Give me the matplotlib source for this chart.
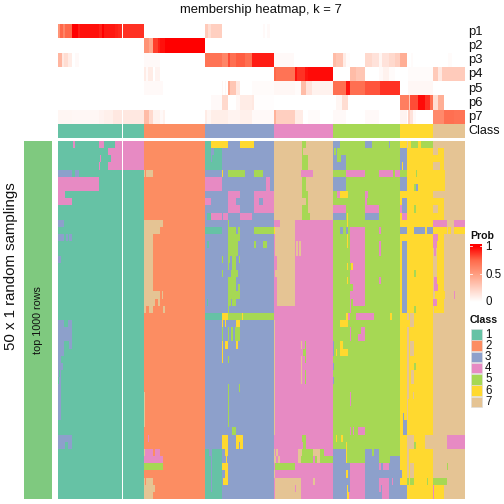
import numpy as np
import matplotlib
matplotlib.use('Agg')
import matplotlib.pyplot as plt
from matplotlib.colors import ListedColormap, LinearSegmentedColormap
from matplotlib.patches import Rectangle

plt.rcParams['font.family'] = ['Liberation Sans', 'DejaVu Sans']

# ------ data ------
N_COLS = 407
N_ROWS = 50
GAP_COL = 64
CLASS_COLORS = ['#66C2A5', '#FC8D62', '#8DA0CB', '#E78AC3', '#A6D854', '#FFD92F', '#E5C494']
SIDE_COLOR = '#7FC97F'
CLASS_NAMES = ['1', '2', '3', '4', '5', '6', '7']
P_NAMES = ['p1', 'p2', 'p3', 'p4', 'p5', 'p6', 'p7']
# first column of each class, last value is the end
CLASS_STARTS = [0, 86, 147, 216, 275, 342, 375, 407]

# membership probabilities as (first col, end col, prob)
p1 = [(0,2,.55),(2,5,.75),(5,7,.62),(7,10,.75),(10,14,.75),(14,20,1.),(20,22,.93),(22,41,.96),(41,44,.92),
      (44,46,1.),(46,57,.94),(57,60,.92),(60,64,.9),(65,86,.88),(147,150,.28),(150,153,.18),(153,164,.25),
      (205,207,.03),(209,212,.03)]
p2 = [(86,91,.55),(91,95,.45),(95,100,.85),(100,102,.92),(102,107,.96),(107,147,1.)]
p3 = [(0,4,.38),(4,6,.12),(6,10,.18),(10,14,.1),(17,21,.03),(86,102,.03),(147,164,.7),(164,170,.62),(170,172,.82),
      (172,178,.72),(178,187,.78),(187,194,.72),(194,216,.93),(216,236,.03),(275,278,.35),(278,285,.3),(285,288,.1),
      (288,292,.02),(307,314,.2),(314,321,.15),(321,324,.05),(324,331,.15),(331,337,.2),(337,342,.25),(342,349,.42),
      (353,355,.02),(390,394,.02)]
p4 = [(86,88,.1),(88,90,.03),(90,95,.1),(97,102,.06),(216,218,.75),(218,237,.7),(237,239,.95),(239,247,.88),
      (247,250,.95),(250,275,.97),(292,298,.35),(298,307,.3),(321,325,.03),(325,331,.07),(331,337,.02),(350,375,.02),
      (375,380,.28),(380,384,.12),(384,407,.27)]
p5 = [(86,105,.03),(164,165,.05),(167,168,.05),(170,172,.45),(172,178,.3),(178,182,.12),(194,216,.02),(216,237,.04),
      (237,243,.02),(243,248,.35),(248,254,.15),(254,275,.07),(275,288,.72),(288,292,.95),(292,307,.72),(307,322,.8),
      (322,342,.88),(350,375,.04)]
p6 = [(153,164,.03),(164,170,.2),(178,182,.04),(182,194,.1),(194,196,.12),(196,216,.01),(278,284,.05),(284,290,.18),
      (342,351,.65),(351,352,.3),(352,360,.82),(360,367,.97),(367,372,.88),(372,375,.72),(375,380,.18),(380,386,.42)]
p7 = [(0,14,.05),(14,41,.04),(41,46,.06),(46,55,.08),(55,64,.12),(65,86,.12),(86,91,.35),(91,95,.2),(95,102,.07),
      (102,105,.03),(105,107,.07),(147,149,.1),(149,153,.05),(153,170,.09),(170,182,.06),(182,194,.08),(194,216,.03),
      (216,218,.4),(218,237,.25),(237,245,.1),(250,262,.02),(275,288,.03),(307,321,.03),(342,349,.06),(350,352,.25),
      (352,355,.15),(355,358,.03),(375,386,.6),(386,396,.72),(396,407,.7)]
P_RUNS = [p1, p2, p3, p4, p5, p6, p7]

# sampled classes, each block paints over its own base class
# (first row, end row, class, first col, end col)
block1 = [(0,1,4,15,17),(0,1,4,41,46),(0,1,4,57,86),(1,2,4,50,86),(2,3,4,42,43),(2,3,4,53,86),(3,4,4,41,42),(3,4,4,50,86),
          (4,5,3,0,14),(4,5,3,17,21),(5,7,4,0,41),(7,8,4,0,7),(8,9,4,0,14),(11,12,3,0,6),(13,14,3,0,6),(13,14,3,8,10),
          (13,14,3,11,14),(16,17,3,0,3),(25,26,3,0,6),(25,26,3,10,14),(26,28,3,0,14),(28,29,3,0,6),(28,29,3,11,14),
          (29,30,3,0,6),(30,31,3,0,3),(31,32,3,0,5),(32,33,3,0,1),(32,33,3,2,3),(33,34,3,1,3),(34,39,3,0,3),
          (41,42,3,0,14),(42,43,3,0,7),(42,43,3,10,14)]
block2 = [(4,5,7,86,87),(4,5,7,88,95),(11,12,7,86,105),(12,13,7,86,102),(13,21,7,86,95),(21,22,7,86,102),(21,22,7,104,105),
          (22,23,7,86,97),(22,23,7,100,102),(23,24,7,86,88),(23,24,7,91,95),(23,24,7,105,107),(35,40,7,86,87),(41,42,4,90,91),
          (43,44,7,86,87),(43,44,4,87,95),(43,44,4,97,102),(44,45,4,86,105),(45,46,5,86,105),(47,48,7,86,87),(47,48,7,88,95),
          (48,49,7,86,97),(49,50,7,86,95)]
block3 = [(0,1,1,147,153),(0,1,6,153,170),(0,1,6,182,196),(1,4,1,147,164),(1,2,3,153,156),(2,3,3,153,154),(4,5,6,164,165),
          (4,5,5,170,187),(4,5,5,196,205),(5,7,4,147,164),(5,7,4,208,212),(7,8,4,170,182),(7,8,4,196,216),(8,9,4,147,153),
          (8,9,4,170,178),(8,9,4,196,201),(8,9,4,205,216),(9,10,4,170,182),(9,10,4,196,216),(10,11,1,149,153),(10,11,4,153,164),
          (10,11,4,165,170),(10,11,4,182,194),(11,12,5,170,171),(12,13,1,147,164),(12,13,5,170,178),(12,13,5,180,182),
          (12,13,5,196,216),(13,14,5,170,182),(14,15,1,149,151),(14,15,5,170,180),(14,15,5,196,198),(14,15,5,205,209),
          (15,16,5,170,180),(16,17,5,164,165),(16,17,5,170,172),(16,17,5,174,178),(16,17,5,181,182),(17,18,5,170,171),
          (17,18,5,174,178),(18,19,5,164,165),(18,19,5,173,180),(19,20,5,170,178),(20,21,5,170,178),(20,21,5,180,182),
          (21,22,5,170,182),(22,23,1,149,150),(22,23,5,170,173),(22,23,5,174,178),(23,24,5,170,171),(24,25,1,147,164),
          (24,25,6,164,170),(24,25,5,170,184),(24,25,6,184,185),(24,25,5,185,216),(25,26,6,164,165),(25,26,6,167,168),
          (25,26,6,178,182),(26,28,5,164,165),(26,28,5,170,171),(26,28,5,173,175),(26,28,5,177,182),(28,29,6,164,165),
          (28,29,6,167,170),(28,29,6,178,180),(29,30,6,164,165),(30,31,6,164,165),(30,31,5,170,171),(34,35,5,181,182),
          (34,40,5,170,171),(40,41,5,174,178),(41,42,6,164,170),(41,42,6,178,185),(42,43,6,164,170),(42,43,6,178,181),
          (42,43,6,182,185),(43,44,1,147,151),(43,44,1,154,164),(43,44,6,167,170),(44,45,1,147,153),(44,45,1,154,164),
          (44,45,6,168,169),(45,46,1,147,153),(45,46,1,154,164),(45,46,6,164,170),(46,47,1,147,153),(46,47,1,154,164),
          (46,47,6,167,170),(47,48,1,147,153),(47,48,1,154,164),(47,48,6,165,170),(48,49,1,147,153),(48,49,1,154,164),
          (49,50,1,147,164)]
block4 = [(0,11,7,216,275),(0,1,5,244,248),(1,2,5,244,245),(2,4,5,244,250),(4,5,4,243,255),(5,7,5,244,248),(7,8,5,244,250),
          (8,9,5,248,250),(9,10,5,244,250),(10,11,5,244,252),(11,12,7,222,237),(12,16,7,217,237),(12,13,6,216,217),
          (14,16,7,238,240),(14,16,7,241,243),(16,18,7,219,237),(18,19,7,217,237),(19,23,7,219,237),(25,41,7,216,217),
          (28,29,7,243,244),(28,29,5,247,248),(29,30,5,245,248),(30,31,7,243,244),(30,31,5,247,248),(31,32,7,243,244),
          (32,34,7,243,244),(32,34,5,247,248),(41,42,5,244,248),(42,43,5,245,248),(43,44,7,216,217),(43,44,7,218,220),
          (43,44,7,240,244),(43,44,5,244,255),(43,44,7,255,262),(43,44,5,262,266),(44,45,7,216,218),(44,45,7,220,222),
          (44,45,7,240,243),(44,45,5,243,255),(44,45,5,257,259),(44,45,7,259,262),(44,45,5,262,275),(45,46,5,217,237),
          (46,47,7,216,217),(47,48,7,217,243),(47,48,7,255,257),(48,50,7,217,243),(48,49,4,237,238)]
block5 = [(0,1,3,275,282),(0,1,3,307,314),(0,1,3,331,332),(1,2,3,275,276),(1,2,3,278,279),(2,3,3,275,279),(2,3,3,283,288),
          (3,4,3,275,288),(4,5,4,288,307),(4,5,4,321,335),(4,5,4,337,342),(5,7,3,275,288),(7,8,4,279,282),(7,8,6,282,290),
          (7,8,4,307,310),(8,9,4,307,309),(9,10,4,275,288),(9,10,4,307,321),(10,11,3,275,288),(10,11,6,289,290),(10,11,3,307,321),
          (11,12,6,289,290),(12,13,3,282,285),(12,13,3,288,290),(12,13,4,292,307),(12,13,4,321,323),(13,14,6,289,290),
          (13,14,4,292,307),(14,15,6,289,290),(14,15,4,292,307),(14,15,4,321,323),(15,16,4,292,307),(15,16,4,321,323),
          (16,17,4,292,307),(17,18,6,289,290),(17,18,6,293,295),(17,18,4,295,307),(18,19,4,292,307),(19,20,6,289,290),
          (19,20,4,292,307),(19,20,4,321,323),(20,21,4,295,307),(21,22,4,292,307),(22,23,4,292,293),(22,23,4,295,307),
          (23,24,4,292,293),(24,25,6,288,290),(24,25,4,290,292),(24,25,4,298,316),(24,25,6,332,334),(25,26,6,282,290),
          (26,27,4,292,293),(26,27,4,303,307),(27,28,4,292,293),(27,28,4,300,307),(28,29,3,275,276),(28,29,6,282,285),
          (29,30,3,275,276),(29,30,6,278,279),(29,30,6,282,290),(31,32,3,275,276),(33,34,3,275,276),(35,37,4,292,293),
          (40,41,4,292,293),(40,41,4,295,296),(40,41,4,300,307),(41,42,6,278,279),(41,42,6,283,285),(42,43,6,288,289),
          (43,44,3,275,288),(43,44,6,288,289),(43,44,3,307,314),(43,44,3,316,321),(44,45,3,275,288),(44,45,6,288,289),
          (44,45,3,307,321),(44,45,3,332,342),(45,46,3,275,292),(45,46,4,292,307),(45,46,3,307,321),(45,46,4,321,323),
          (45,46,3,323,325),(45,46,4,325,331),(45,46,3,331,342),(46,47,3,275,288),(46,47,6,288,290),(46,47,3,290,292),
          (46,47,4,292,307),(46,47,3,307,342),(47,48,3,275,292),(47,48,4,292,307),(47,48,3,307,321),(47,48,4,321,331),
          (47,48,3,331,334),(47,48,4,334,335),(47,48,3,335,342),(48,49,3,275,289),(48,49,6,289,290),(48,49,3,290,292),
          (48,49,4,292,307),(48,49,3,307,321),(48,49,4,321,323),(48,49,3,323,324),(48,49,4,324,331),(48,49,3,331,342),
          (49,50,3,275,289),(49,50,6,289,291),(49,50,4,291,307),(49,50,3,307,324),(49,50,4,324,331),(49,50,3,331,342)]
block6 = [(0,1,7,349,350),(0,1,5,353,360),(0,1,5,363,375),(1,3,3,342,349),(3,4,3,342,344),(3,4,3,345,349),(4,5,5,342,349),
          (4,5,5,358,359),(5,6,3,342,349),(6,7,3,342,349),(6,7,5,356,358),(6,7,3,358,360),(8,9,3,344,349),(9,10,4,342,344),
          (9,10,3,344,349),(9,10,5,356,358),(10,11,4,344,349),(12,13,3,342,349),(12,13,3,356,367),(12,13,3,369,375),
          (14,24,3,344,349),(18,19,5,356,358),(23,24,5,356,358),(24,25,7,349,351),(24,25,7,352,356),(25,26,7,352,356),
          (26,28,7,349,351),(28,30,7,349,351),(28,30,7,352,356),(30,31,7,349,351),(31,32,7,349,351),(31,32,5,356,358),
          (32,34,7,349,351),(32,34,7,353,356),(34,35,7,349,351),(35,36,7,349,351),(35,36,7,355,356),(36,39,7,349,350),
          (38,39,3,345,346),(39,41,3,345,349),(41,42,7,349,356),(41,42,7,367,375),(42,43,7,349,356),(42,43,5,356,358),
          (42,43,7,367,375),(43,45,7,349,351),(45,47,7,349,351),(45,47,7,352,356),(46,47,3,342,344),(47,48,5,349,351),
          (47,48,5,352,356),(47,48,5,369,370),(48,50,3,342,349)]
block7 = [(1,2,6,380,386),(2,3,6,375,386),(3,4,6,382,386),(4,7,6,375,387),(8,9,6,375,386),(9,10,6,380,386),(10,11,6,375,386),
          (11,12,4,375,389),(11,12,4,396,407),(12,13,6,375,389),(12,13,6,390,393),(12,13,6,396,407),(13,14,4,375,380),
          (13,14,6,380,386),(14,15,4,375,379),(14,15,6,379,386),(15,16,4,376,378),(15,16,6,379,386),(16,19,6,379,386),
          (19,20,4,376,379),(19,20,6,379,386),(20,21,4,376,380),(20,21,6,380,386),(21,22,6,377,387),(21,22,4,396,397),
          (22,23,4,375,379),(22,23,6,379,386),(23,24,6,376,386),(41,43,4,389,407),(45,46,5,389,390),(47,48,5,375,389),
          (48,50,4,375,376),(48,50,6,376,386)]
BLOCKS = [block1, block2, block3, block4, block5, block6, block7]

# ------ matrices ------
prob = np.zeros((len(P_RUNS), N_COLS))
for i, runs in enumerate(P_RUNS):
    for a, b, v in runs:
        prob[i, a:b] = v
prob[:, GAP_COL] = np.nan

classes = np.zeros(N_COLS)
samples = np.zeros((N_ROWS, N_COLS))
for c in range(7):
    classes[CLASS_STARTS[c]:CLASS_STARTS[c + 1]] = c + 1
    samples[:, CLASS_STARTS[c]:CLASS_STARTS[c + 1]] = c + 1
    for r0, r1, k, a, b in BLOCKS[c]:
        samples[r0:r1, a:b] = k
classes[GAP_COL] = np.nan
samples[:, GAP_COL] = np.nan

# ------ figure, positions are given in pixels from the top left ------
W = 504
fig = plt.figure(figsize=(W / 72, W / 72), dpi=72)


def px_axes(x0, y0, x1, y1):
    ax = fig.add_axes([x0 / W, 1 - y1 / W, (x1 - x0) / W, (y1 - y0) / W])
    ax.set_xticks([])
    ax.set_yticks([])
    for s in ax.spines.values():
        s.set_visible(False)
    return ax


def px_text(x, y, s, **kw):
    kw.setdefault('va', 'center')
    kw.setdefault('ha', 'left')
    kw.setdefault('color', '#111111')
    fig.text(x / W, 1 - y / W, s, **kw)


prob_cmap = LinearSegmentedColormap.from_list('prob', ['#FFFFFF', '#FFD0C1', '#FF9E81', '#FF6A4B', '#FF0000'])
prob_cmap.set_bad('white')
class_cmap = ListedColormap(CLASS_COLORS)
class_cmap.set_bad('white')

ax = px_axes(58, 24, 465, 124)
ax.imshow(prob, aspect='auto', cmap=prob_cmap, vmin=0, vmax=1, interpolation='nearest')

ax = px_axes(58, 124, 465, 138)
ax.imshow(classes[None, :], aspect='auto', cmap=class_cmap, vmin=0.5, vmax=7.5, interpolation='nearest')

ax = px_axes(58, 141, 465, 499)
ax.imshow(samples, aspect='auto', cmap=class_cmap, vmin=0.5, vmax=7.5, interpolation='nearest')

ax = px_axes(24, 141, 52, 499)
ax.set_facecolor(SIDE_COLOR)

# texts
px_text(261, 10, 'membership heatmap, k = 7', ha='center', fontsize=13)
for i, name in enumerate(P_NAMES):
    px_text(468, 24 + 14.25 * (i + 0.5) + 0.5, name, fontsize=13)
px_text(468, 131.5, 'Class', fontsize=12.5)
px_text(11, 266, '50 x 1 random samplings', rotation=90, ha='center', fontsize=15)
px_text(38, 320, 'top 1000 rows', rotation=90, ha='center', fontsize=10.8)

# legend Prob
px_text(470, 236, 'Prob', fontsize=10.5, fontweight='bold')
cb = px_axes(470, 244, 482, 302)
grad = np.linspace(1.04, 0, 120)[:, None]
cb.imshow(np.clip(grad, 0, 1), aspect='auto', cmap=prob_cmap, vmin=0, vmax=1, extent=[0, 1, 0, 1.04])
for v in [0.5, 1]:
    cb.plot([0, 0.2], [v, v], color='white', lw=0.8)
    cb.plot([0.8, 1], [v, v], color='white', lw=0.8)
cb.set_xlim(0, 1)
cb.set_ylim(0, 1.04)
px_text(485, 247, '1', fontsize=11.5)
px_text(485, 274.5, '0.5', fontsize=11.5)
px_text(485, 302, '0', fontsize=11.5)

# legend Class
px_text(470, 320, 'Class', fontsize=10.5, fontweight='bold')
for i, name in enumerate(CLASS_NAMES):
    y = 329 + 11.25 * i
    fig.add_artist(Rectangle((470.5 / W, 1 - (y + 10.5) / W), 11 / W, 10.5 / W, transform=fig.transFigure,
                             facecolor=CLASS_COLORS[i], edgecolor='#DDDDDD', lw=0.6))
    px_text(485, y + 5.5, name, fontsize=11.5)

fig.savefig('out.png', dpi=72)
